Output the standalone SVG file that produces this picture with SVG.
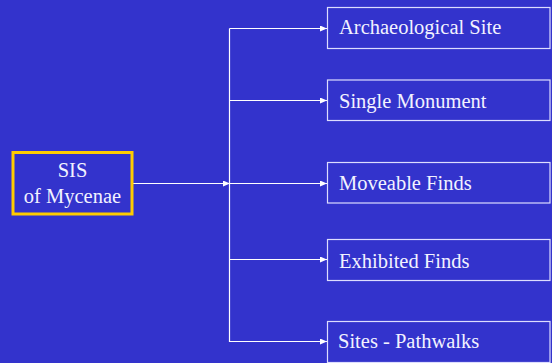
<svg xmlns="http://www.w3.org/2000/svg" width="552" height="363" viewBox="0 0 552 363">
  <defs>
    <marker id="arrow" viewBox="0 0 7 6" refX="7" refY="3" markerWidth="7" markerHeight="6" markerUnits="userSpaceOnUse" orient="auto">
      <path d="M0,0 L7,3 L0,6 Z" fill="#ffffff"/>
    </marker>
    <style>
      .bg { fill: #3333cc; }
      .root { fill: #3333cc; stroke: #ffcc00; stroke-width: 3; }
      .leaf { fill: #3333cc; stroke: #ddddff; stroke-width: 1.2; }
      .label { font-size: 20.5px; fill: #f2f2ff; }
      .wire { fill: none; stroke: #ffffff; stroke-width: 1.2; }
    </style>
  </defs>

  <rect class="bg" x="0" y="0" width="552" height="363"/>

  <!-- connectors -->
  <g id="connectors">
    <line class="wire" x1="133" y1="183.5" x2="230" y2="183.5" marker-end="url(#arrow)"/>
    <line class="wire" x1="229.5" y1="28.5" x2="229.5" y2="342"/>
    <line class="wire" x1="229.5" y1="28.5" x2="327" y2="28.5" marker-end="url(#arrow)"/>
    <line class="wire" x1="229.5" y1="100.5" x2="327" y2="100.5" marker-end="url(#arrow)"/>
    <line class="wire" x1="229.5" y1="183.5" x2="327" y2="183.5" marker-end="url(#arrow)"/>
    <line class="wire" x1="229.5" y1="259.5" x2="327" y2="259.5" marker-end="url(#arrow)"/>
    <line class="wire" x1="229.5" y1="341.5" x2="327" y2="341.5" marker-end="url(#arrow)"/>
  </g>

  <g font-family="Liberation Serif, serif">
    <!-- root node -->
    <g id="sis-mycenae">
      <rect class="root" x="13" y="152.5" width="119" height="61.5"/>
      <text class="label" x="72.5" y="177" text-anchor="middle">SIS</text>
      <text class="label" x="72.5" y="202.5" text-anchor="middle">of Mycenae</text>
    </g>

    <!-- child nodes -->
    <g id="archaeological-site">
      <rect class="leaf" x="327.5" y="7.5" width="222.5" height="41"/>
      <text class="label" x="339" y="33.5">Archaeological Site</text>
    </g>
    <g id="single-monument">
      <rect class="leaf" x="327.5" y="80" width="222.5" height="40.5"/>
      <text class="label" x="339" y="107.5">Single Monument</text>
    </g>
    <g id="moveable-finds">
      <rect class="leaf" x="327.5" y="162.5" width="222.5" height="40.5"/>
      <text class="label" x="339" y="190">Moveable Finds</text>
    </g>
    <g id="exhibited-finds">
      <rect class="leaf" x="327.5" y="239.5" width="222.5" height="41"/>
      <text class="label" x="339" y="267.5">Exhibited Finds</text>
    </g>
    <g id="sites-pathwalks">
      <rect class="leaf" x="327.5" y="321.5" width="222.5" height="41"/>
      <text class="label" x="338" y="348">Sites - Pathwalks</text>
    </g>
  </g>
</svg>
